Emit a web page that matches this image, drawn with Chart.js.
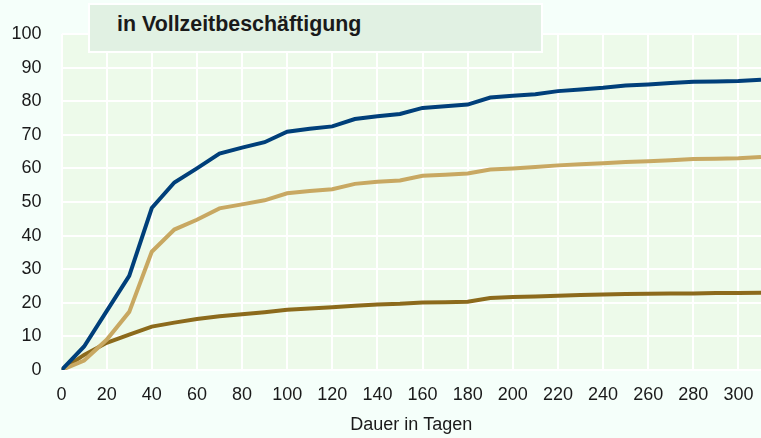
<!DOCTYPE html>
<html>
<head>
<meta charset="utf-8">
<script src="https://cdn.jsdelivr.net/npm/chart.js@4.4.1/dist/chart.umd.min.js"></script>
<style>
  html, body { margin: 0; padding: 0; background: #f5fffa; }
  #wrap { position: relative; width: 761px; height: 438px; }
  #title {
    position: absolute; left: 88px; top: 3px; width: 451px; height: 46px;
    background: #e1f1e3; border: 2px solid #ffffff;
    font-family: "Liberation Sans", Arial, sans-serif; font-weight: bold;
    font-size: 21.4px; color: #1a1a1a; line-height: 21px;
    box-sizing: content-box;
  }
  #title span { position: absolute; left: 27px; top: 9px; white-space: nowrap; }
</style>
</head>
<body>
<div id="wrap">
  <canvas id="c"></canvas>
  <div id="title"><span>in Vollzeitbeschäftigung</span></div>
</div>
<script>
const days = [0,10,20,30,40,50,60,70,80,90,100,110,120,130,140,150,160,170,180,190,200,210,220,230,240,250,260,270,280,290,300,310];
const seriesBlue = [0,7,17.5,28,48.2,55.8,60,64.4,66.2,67.8,70.9,71.8,72.5,74.7,75.5,76.2,78,78.5,79,81.1,81.6,82.1,83,83.5,84,84.7,85,85.4,85.8,85.9,86,86.4];
const seriesGold = [0,2.8,9,17.3,35.2,41.8,44.7,48.1,49.3,50.5,52.6,53.3,53.8,55.4,56,56.4,57.8,58.1,58.5,59.7,60,60.4,60.9,61.2,61.5,61.9,62.1,62.4,62.8,62.9,63,63.4];
const seriesBrown = [0,4.5,8.1,10.5,12.9,14.1,15.2,16,16.6,17.2,17.9,18.3,18.7,19.1,19.5,19.7,20.1,20.2,20.3,21.4,21.7,21.9,22.1,22.3,22.5,22.6,22.7,22.8,22.8,22.9,22.9,23.0];
const xTitle = "Dauer in Tagen";

function pts(vals) { return days.map((d, i) => ({ x: d, y: vals[i] })); }

const bgPlugin = {
  id: 'plotBg',
  beforeDraw(chart) {
    const { ctx, chartArea: a } = chart;
    ctx.save();
    ctx.fillStyle = '#edfaea';
    ctx.fillRect(a.left, a.top, a.right - a.left, a.bottom - a.top);
    ctx.restore();
  }
};

const font = { family: '"Liberation Sans", Arial, sans-serif', size: 18 };

new Chart(document.getElementById('c'), {
  type: 'line',
  data: {
    datasets: [
      { data: pts(seriesBlue), borderColor: '#003f7a', borderWidth: 4, pointRadius: 0, tension: 0, fill: false },
      { data: pts(seriesGold), borderColor: '#c8a862', borderWidth: 4, pointRadius: 0, tension: 0, fill: false },
      { data: pts(seriesBrown), borderColor: '#8c6a1c', borderWidth: 4, pointRadius: 0, tension: 0, fill: false }
    ]
  },
  options: {
    responsive: true,
    maintainAspectRatio: false,
    animation: false,
    events: [],
    layout: { padding: { left: 11.5, right: 0, top: 34, bottom: 0 } },
    plugins: { legend: { display: false }, tooltip: { enabled: false } },
    scales: {
      x: {
        type: 'linear', min: 0, max: 310,
        border: { display: false },
        grid: { color: '#ffffff', lineWidth: 2, drawTicks: true, tickLength: 14, tickColor: 'rgba(0,0,0,0)' },
        ticks: { stepSize: 20, includeBounds: false, padding: 0, color: '#1a1a1a', font: font, maxRotation: 0, autoSkip: false },
        title: { display: true, text: xTitle, color: '#1a1a1a', font: font, padding: { top: 8.8, bottom: 2 } }
      },
      y: {
        min: 0, max: 100,
        border: { display: false },
        grid: { color: '#ffffff', lineWidth: 2, drawTicks: true, tickLength: 20, tickColor: 'rgba(0,0,0,0)' },
        ticks: { stepSize: 10, padding: 0, color: '#1a1a1a', font: font }
      }
    }
  },
  plugins: [bgPlugin]
});
</script>
</body>
</html>
